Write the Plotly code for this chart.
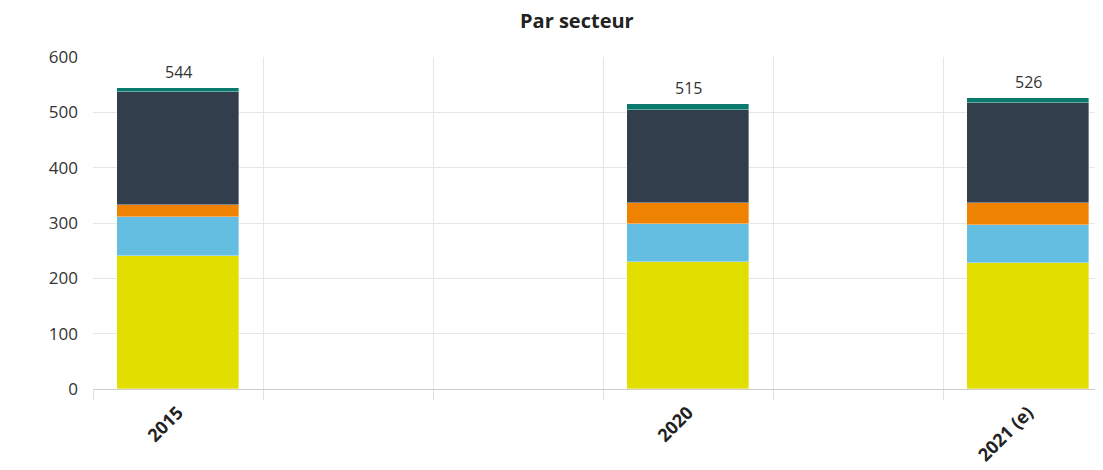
import plotly.graph_objects as go

# Category slots (only some carry data / labels)
years = ["2015", "2020", "2021 (e)"]
year_pos = [0, 3, 5]

series_names = ["Secteur 1", "Secteur 2", "Secteur 3", "Secteur 4", "Secteur 5"]
s1 = [240, 229, 228]
s2 = [71, 70, 69]
s3 = [22, 38, 40]
s4 = [203, 168, 179]
s5 = [8, 10, 10]
totals = [544, 515, 526]
colors = ["#e2df00", "#64bee2", "#ef8200", "#333e4c", "#0b7a6c"]

FONT = "Open Sans, sans-serif"

fig = go.Figure()
for name, vals, col in zip(series_names, [s1, s2, s3, s4, s5], colors):
    fig.add_trace(go.Bar(
        x=year_pos, y=vals, name=name, width=0.72,
        marker=dict(color=col, line=dict(color="rgba(255,255,255,0.6)", width=0.6)),
        showlegend=False, hoverinfo="y+name",
    ))

annotations = [dict(
    text="<b>Par secteur</b>", xref="paper", yref="paper",
    x=(569 - 85) / (1103 - 85), y=1, yshift=37, xanchor="center", yanchor="middle",
    showarrow=False, font=dict(size=20, color="#222222", family=FONT),
)]
for xp, t in zip(year_pos, totals):
    annotations.append(dict(
        x=xp, y=t, xref="x", yref="y", text=str(t), showarrow=False,
        yanchor="bottom", yshift=3, font=dict(size=16, color="#333333", family=FONT),
    ))

fig.update_layout(
    barmode="stack",
    width=1103, height=470,
    margin=dict(l=85, r=0, t=49, b=89),
    paper_bgcolor="white", plot_bgcolor="white",
    font=dict(family=FONT, color="#333333"),
    bargap=0,
    annotations=annotations,
)

fig.update_xaxes(
    range=[-0.5, 5.5 - 2 / 170],
    tickmode="array", tickvals=year_pos, ticktext=years,
    tickangle=-45, tickfont=dict(size=18, color="#222222", family=FONT, weight="bold"),
    ticks="", showgrid=False, ticklabelstandoff=5,
    showline=True, linecolor="#cccccc", linewidth=1,
    zeroline=False,
    minor=dict(tickmode="linear", tick0=-0.5, dtick=1, showgrid=True,
               gridcolor="#e6e6e6", gridwidth=1, ticks="outside", ticklen=10,
               tickcolor="#e0e0e0", tickwidth=1),
)

fig.update_yaxes(
    range=[0, 600], tickmode="linear", tick0=0, dtick=100,
    tickfont=dict(size=17, color="#333333", family=FONT),
    showgrid=True, gridcolor="#e6e6e6", gridwidth=1,
    zeroline=False, showline=False, ticks="", ticklabelstandoff=14,
)

fig.write_html("out.html")
